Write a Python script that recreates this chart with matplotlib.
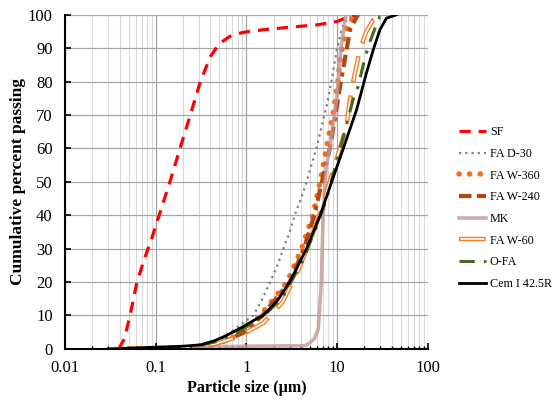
import matplotlib
matplotlib.use("Agg")
import matplotlib.pyplot as plt
from matplotlib.legend_handler import HandlerTuple
from matplotlib.ticker import FixedLocator, FixedFormatter, LogLocator, NullFormatter

plt.rcParams['font.family'] = ['Liberation Serif', 'DejaVu Serif']

# ---- data (particle size in µm, cumulative % passing) ----
sf_x = [0.039, 0.045, 0.052, 0.062, 0.075, 0.09, 0.115, 0.143, 0.185, 0.24, 0.31, 0.4, 0.5, 0.65, 0.9, 1.5, 3, 6, 10, 13, 17]
sf_y = [0, 3, 10, 20, 27, 33, 42, 50, 60, 70, 80, 87.5, 91.3, 93.5, 94.7, 95.5, 96.3, 97, 98, 99.3, 100]

d30_x = [0.25, 0.5, 0.8, 1.0, 1.19, 1.5, 1.82, 2.2, 2.55, 3.0, 3.4, 4.0, 4.6, 5.2, 5.9, 7.7, 8.9, 10, 11.3, 13, 16]
d30_y = [0.8, 2.5, 6.5, 8.5, 10, 15, 20, 25, 30, 35, 40, 45, 50, 55, 60, 73, 82, 90, 96, 99, 100]

w360_x = [0.05, 0.2, 0.4, 0.6, 0.92, 1.41, 2.0, 2.8, 4.05, 5.4, 6.5, 7.6, 9.1, 10.2, 10.7, 11.7, 13, 16]
w360_y = [0, 0.3, 1, 2.5, 5, 10, 15, 20, 30, 40, 50, 60, 71, 80, 86, 92, 97, 100]

w240_x = [0.05, 0.2, 0.4, 0.6, 0.95, 1.5, 2.1, 3.0, 4.3, 5.6, 6.8, 8.3, 9.6, 11.0, 12.8, 14.0, 17]
w240_y = [0, 0.3, 1, 2.5, 5, 10, 15, 20, 30, 40, 50, 60, 70, 80, 90, 96, 100]

mk_x = [0.2, 0.3, 1, 3, 4.5, 5.0, 5.6, 6.2, 6.7, 7.0, 7.6, 8.3, 9.9, 11, 12.5]
mk_y = [0, 0.5, 0.8, 0.9, 1.0, 1.8, 3, 6, 20, 40, 55, 60, 75, 90, 100]

w60_x = [0.05, 0.25, 0.45, 0.72, 1.0, 1.53, 2.5, 3.6, 5.0, 6.7, 8.7, 11, 12.7, 13.8, 15.7, 17.8, 21, 25, 30]
w60_y = [0, 0.5, 1.5, 3.2, 5, 7.7, 14, 22.6, 32, 41.6, 52, 61, 66.6, 74.6, 82.5, 89.5, 95, 98.5, 100]

ofa_x = [0.05, 0.25, 0.47, 0.8, 1.2, 1.67, 2.55, 4.2, 6, 7.6, 10.3, 11.2, 15, 17, 19.4, 22, 27, 29.6, 33]
ofa_y = [0, 0.5, 2.2, 5, 8, 10.7, 15.7, 26.6, 37, 44.6, 58, 61.6, 74.6, 78.5, 85, 90.5, 97, 99.5, 100]

cem_x = [0.03, 0.05, 0.1, 0.2, 0.31, 0.45, 0.6, 0.9, 1.2, 1.53, 2.2, 3.0, 4.6, 6.5, 8.7, 11.7, 16.4, 21, 25, 29.6, 35, 45]
cem_y = [0, 0.2, 0.5, 0.8, 1.2, 2.5, 4, 6.5, 8.5, 10, 14.5, 20, 30, 40, 50, 60, 71.6, 82.5, 89.5, 95.5, 99, 100]

x_ticks = [0.01, 0.1, 1, 10, 100]
x_tick_labels = ["0.01", "0.1", "1", "10", "100"]
y_ticks = list(range(0, 101, 10))

fig = plt.figure(figsize=(5.52, 4.01), dpi=100)
ax = fig.add_axes([0.118, 0.130, 0.657, 0.833])

l_sf, = ax.plot(sf_x, sf_y, color='#ff0000', lw=2.3, linestyle=(0, (3.5, 2.5)), label='SF')
l_d30, = ax.plot(d30_x, d30_y, color='#808080', lw=1.6, linestyle=(0, (1, 1.8)), label='FA D-30')
l_w360, = ax.plot(w360_x, w360_y, color='#f07018', lw=4, linestyle=(0, (0.01, 1.9)),
                  dash_capstyle='round', label='FA W-360')
l_w240, = ax.plot(w240_x, w240_y, color='#b5470f', lw=3, linestyle=(0, (3, 1.3, 3, 1.3, 1, 1.3)),
                  label='FA W-240')
l_mk, = ax.plot(mk_x, mk_y, color='#c39797', lw=2.6, alpha=0.8, label='MK')
l_w60a, = ax.plot(w60_x, w60_y, color='#f47f20', lw=3.2, linestyle=(0, (6, 3)))
l_w60b, = ax.plot(w60_x, w60_y, color='white', lw=1.2, linestyle=(23.1, (14.2, 9.8)))
l_ofa, = ax.plot(ofa_x, ofa_y, color='#466b1e', lw=2.2, linestyle=(0, (5, 3, 1, 3)), label='O-FA')
l_cem, = ax.plot(cem_x, cem_y, color='#000000', lw=2.0, label='Cem I 42.5R')

ax.set_xscale('log')
ax.set_xlim(0.01, 100)
ax.set_ylim(0, 100)
ax.xaxis.set_major_locator(FixedLocator(x_ticks))
ax.xaxis.set_major_formatter(FixedFormatter(x_tick_labels))
ax.xaxis.set_minor_locator(LogLocator(base=10, subs=range(2, 10)))
ax.xaxis.set_minor_formatter(NullFormatter())
ax.set_yticks(y_ticks)

ax.grid(which='major', color='#a6a6a6', lw=0.9)
ax.grid(which='minor', axis='x', color='#d9d9d9', lw=0.8)
ax.set_axisbelow(True)
for s in ['top', 'right']:
    ax.spines[s].set_visible(False)
for s in ['left', 'bottom']:
    ax.spines[s].set_linewidth(1.5)
ax.tick_params(which='major', direction='in', length=4, width=1.2, labelsize=12)
ax.tick_params(which='minor', direction='in', length=2.5, width=1)
ax.tick_params(axis='x', pad=8)
ax.tick_params(axis='y', pad=9)

ax.set_xlabel('Particle size (µm)', fontsize=11.5, fontweight='bold', labelpad=3)
ax.set_ylabel('Cumulative percent passing', fontsize=12.5, fontweight='bold', labelpad=1)

handles = [l_sf, l_d30, l_w360, l_w240, l_mk, (l_w60a, l_w60b), l_ofa, l_cem]
labels = ['SF', 'FA D-30', 'FA W-360', 'FA W-240', 'MK', 'FA W-60', 'O-FA', 'Cem I 42.5R']
leg = fig.legend(handles, labels, loc='upper left', bbox_to_anchor=(0.822, 0.697),
                 frameon=False, fontsize=8.7, handlelength=2.3, handletextpad=0.3,
                 labelspacing=0.8, borderaxespad=0,
                 handler_map={tuple: HandlerTuple(ndivide=1)})

fig.savefig('out.png', dpi=100)
